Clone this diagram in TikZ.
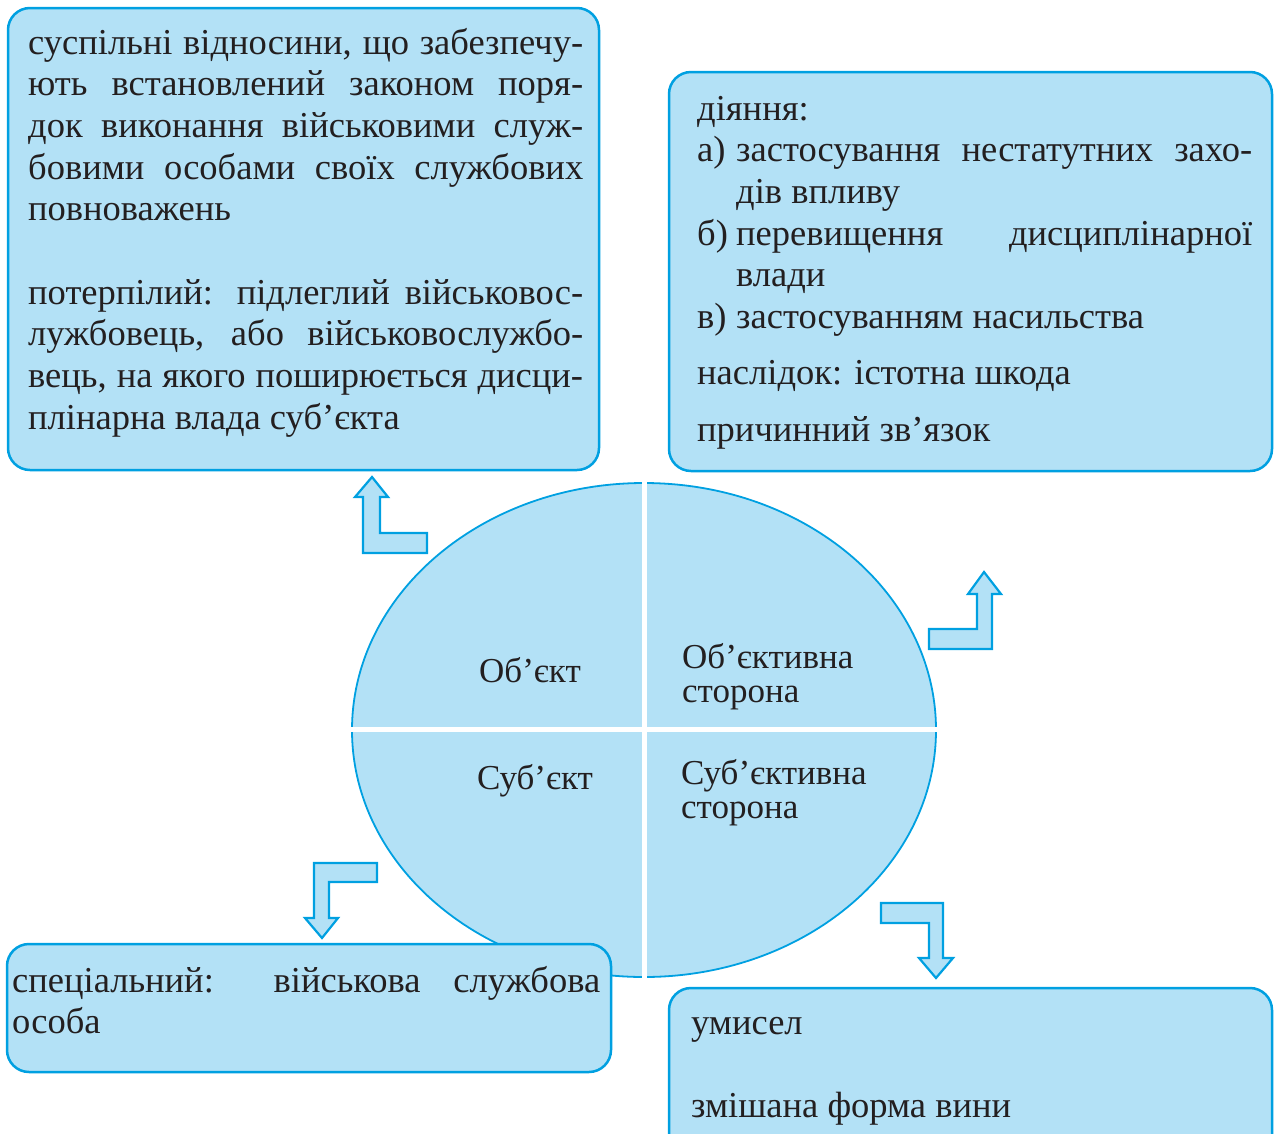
\documentclass[tikz,border=0pt]{standalone}
\usepackage{fontspec}
\setmainfont{Liberation Serif}
\usetikzlibrary{calc}

\definecolor{boxfill}{HTML}{B3E1F6}
\definecolor{boxline}{HTML}{00A0E1}
\definecolor{inktext}{HTML}{231F20}
\tolerance=9999 \hbadness=10000 \hfuzz=20pt \hyphenpenalty=10000

\begin{document}
\begin{tikzpicture}[x=1pt, y=-1pt,
    panel/.style={draw=boxline, fill=boxfill, line width=2.5pt, rounded corners=22pt},
    bendarrow/.style={draw=boxline, fill=boxfill, line width=2.2pt, line join=miter},
    boxtext/.style={anchor=base west, inner sep=0pt, text=inktext, align=justify,
        font=\fontsize{36.5}{41.7}\selectfont},
    quarter/.style={inner sep=0pt, text=inktext, font=\fontsize{35}{34}\selectfont}]

    \useasboundingbox (0,0) rectangle (1274,1133);

    % --- CENTRAL ELLIPSE ---
    \coordinate (C) at (644,730);
    \draw[boxline, fill=boxfill, line width=1.8pt] (C) ellipse (292pt and 247pt);
    \draw[white, line width=5pt] (644,480) -- (644,980);
    \draw[white, line width=5pt] (349,729) -- (939,729);

    \node[quarter, anchor=base] (obj) at (530,682) {Об’єкт};
    \node[quarter, anchor=base] (subj) at (535,789) {Суб’єкт};
    \node[quarter, anchor=base west, text width=230pt, align=left] (objside) at (682,668) {Об’єктивна\\сторона};
    \node[quarter, anchor=base west, text width=230pt, align=left] (subjside) at (681,784) {Суб’єктивна\\сторона};

    % --- PANELS ---
    \draw[panel] (8,8) rectangle (599,470);
    \draw[panel] (669,72) rectangle (1272,471);
    \draw[panel] (7,944) rectangle (611,1072);
    \draw[panel] (669,988) rectangle (1272,1160);

    \node[boxtext, text width=555pt] (object) at (28,54) {%
        суспільні відносини, що забезпечу-\linebreak ють встановлений законом поря-\linebreak
        док виконання військовими служ-\linebreak бовими особами своїх службових\linebreak
        повноважень\par\vspace{41.7pt}
        потерпілий: підлеглий військовос-\linebreak лужбовець, або військовослужбо-\linebreak
        вець, на якого поширюється дисци-\linebreak плінарна влада суб’єкта};

    \node[boxtext, text width=555pt] (objective) at (697,120) {%
        діяння:\par
        {\hangindent=39pt\hangafter=1\makebox[39pt][l]{а)}застосування нестатутних захо-\linebreak дів впливу\par}
        {\hangindent=39pt\hangafter=1\makebox[39pt][l]{б)}перевищення дисциплінарної\linebreak влади\par}
        \makebox[39pt][l]{в)}застосуванням насильства\par
        \vspace{14.5pt}наслідок: істотна шкода\par
        \vspace{15pt}причинний зв’язок};

    \node[boxtext, text width=588pt] (subject) at (12,992) {%
        спеціальний: військова службова\linebreak особа};

    \node[boxtext, text width=555pt] (subjective) at (691,1034) {%
        умисел\par\vspace{41.7pt}змішана форма вини};

    % --- BENT ARROWS ---
    \draw[bendarrow] (363,553) -- (427,553) -- (427,533) -- (380,533) -- (380,497)
        -- (388,497) -- (372,477) -- (355,497) -- (363,497) -- cycle;
    \draw[bendarrow] (929,649) -- (992,649) -- (992,594) -- (1001,594) -- (984,572)
        -- (968,594) -- (977,594) -- (977,629) -- (929,629) -- cycle;
    \draw[bendarrow] (377,863) -- (314,863) -- (314,918) -- (305,918) -- (322,938)
        -- (338,918) -- (329,918) -- (329,882) -- (377,882) -- cycle;
    \draw[bendarrow] (881,903) -- (943,903) -- (943,958) -- (953,958) -- (936,978)
        -- (919,958) -- (929,958) -- (929,923) -- (881,923) -- cycle;

\end{tikzpicture}
\end{document}
